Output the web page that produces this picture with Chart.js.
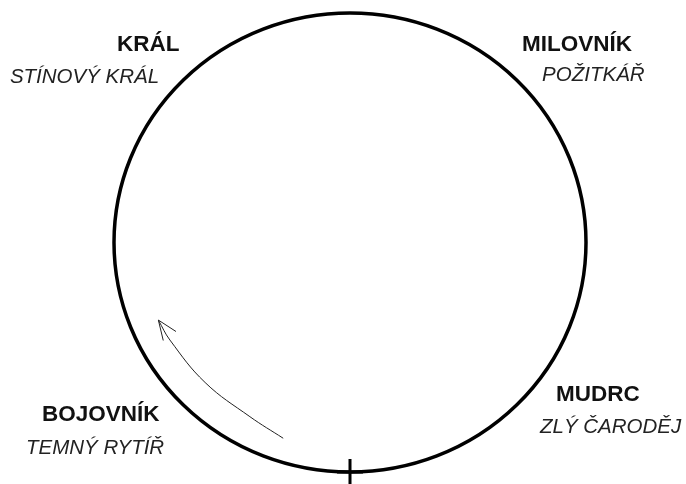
<!DOCTYPE html>
<html>
<head>
<meta charset="utf-8">
<script src="https://cdn.jsdelivr.net/npm/chart.js@4"></script>
<style>
  html, body { margin: 0; padding: 0; background: #fff; }
  #wrap { width: 686px; height: 484px; }
</style>
</head>
<body>
<div id="wrap"><canvas id="cycle" width="686" height="484"></canvas></div>
<script>
// archetypes round the circle (unit circle, centre 0,0)
const roles = ["KRÁL", "MILOVNÍK", "MUDRC", "BOJOVNÍK"];
const shadows = ["STÍNOVÝ KRÁL", "POŽITKÁŘ", "ZLÝ ČARODĚJ", "TEMNÝ RYTÍŘ"];

// the circle itself
const ringCenter = [0, 0];
const ringRadius = 1;

// start mark at the bottom of the circle
const startX = [0];
const startY = [-1];

// curved arrow inside (tail -> head)
const arrowX = [-0.283, -0.424, -0.614, -0.763, -0.812];
const arrowY = [-0.853, -0.759, -0.610, -0.425, -0.338];

// where the captions sit (left edge, middle)
const roleAt = [[-0.987, 0.861], [0.729, 0.861], [0.873, -0.662], [-1.305, -0.752]];
const shadowAt = [[-1.441, 0.721], [0.814, 0.728], [0.805, -0.804], [-1.373, -0.898]];

const ringPlugin = {
    id: "ring",
    beforeDatasetsDraw(chart) {
        const { ctx, scales: { x, y } } = chart;
        const cx = x.getPixelForValue(ringCenter[0]);
        const cy = y.getPixelForValue(ringCenter[1]);
        const rx = x.getPixelForValue(ringCenter[0] + ringRadius) - cx;
        const ry = cy - y.getPixelForValue(ringCenter[1] + ringRadius);
        ctx.save();
        ctx.beginPath();
        ctx.ellipse(cx, cy, rx, ry, 0, 0, Math.PI * 2);
        ctx.lineWidth = 3.5;
        ctx.strokeStyle = "#000";
        ctx.stroke();
        ctx.restore();
    },
    afterDatasetsDraw(chart) {
        const { ctx, scales: { x, y } } = chart;
        // arrow head
        const n = arrowX.length;
        const tx = x.getPixelForValue(arrowX[n - 1]), ty = y.getPixelForValue(arrowY[n - 1]);
        const px = x.getPixelForValue(arrowX[n - 2]), py = y.getPixelForValue(arrowY[n - 2]);
        const ang = Math.atan2(py - ty, px - tx) - 0.09;
        ctx.save();
        ctx.strokeStyle = "#222";
        ctx.lineWidth = 1;
        [-0.38, 0.38].forEach(d => {
            ctx.beginPath();
            ctx.moveTo(tx, ty);
            ctx.lineTo(tx + 21 * Math.cos(ang + d), ty + 21 * Math.sin(ang + d));
            ctx.stroke();
        });
        // captions
        ctx.textAlign = "left";
        ctx.textBaseline = "middle";
        roles.forEach((r, i) => {
            ctx.font = "bold 22.5px 'Liberation Sans', Arial, sans-serif";
            ctx.fillStyle = "#111";
            ctx.fillText(r, x.getPixelForValue(roleAt[i][0]), y.getPixelForValue(roleAt[i][1]));
            ctx.font = "italic 20.5px 'Liberation Sans', Arial, sans-serif";
            ctx.fillStyle = "#222";
            ctx.fillText(shadows[i], x.getPixelForValue(shadowAt[i][0]), y.getPixelForValue(shadowAt[i][1]));
        });
        ctx.restore();
    }
};

new Chart(document.getElementById("cycle"), {
    type: "scatter",
    data: {
        datasets: [
            {
                data: arrowX.map((v, i) => ({ x: v, y: arrowY[i] })),
                showLine: true,
                tension: 0.4,
                borderColor: "#222",
                borderWidth: 1,
                pointRadius: 0
            },
            {
                data: startX.map((v, i) => ({ x: v, y: startY[i] })),
                pointStyle: "cross",
                pointRadius: 13,
                borderColor: "#000",
                borderWidth: 3
            }
        ]
    },
    options: {
        responsive: false,
        animation: false,
        layout: { padding: 0, autoPadding: false },
        plugins: { legend: { display: false }, tooltip: { enabled: false } },
        scales: {
            x: { type: "linear", display: false, min: -350 / 236, max: 336 / 236 },
            y: { type: "linear", display: false, min: -241.5 / 229.5, max: 242.5 / 229.5 }
        }
    },
    plugins: [ringPlugin]
});
</script>
</body>
</html>
